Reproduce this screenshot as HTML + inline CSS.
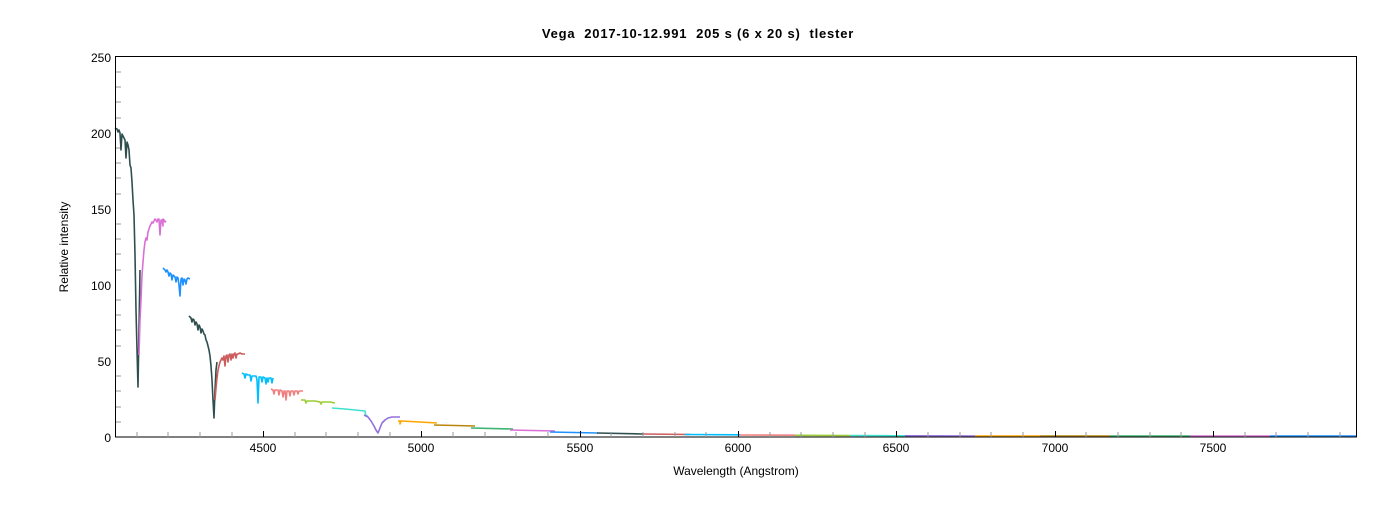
<!DOCTYPE html>
<html><head><meta charset="utf-8"><style>
body{margin:0;background:#fff;}
svg text{font-family:"Liberation Sans",sans-serif;}
</style></head><body>
<svg width="1400" height="500" xmlns="http://www.w3.org/2000/svg">
<rect width="1400" height="500" fill="#fff"/>
<text x="698" y="38" text-anchor="middle" font-size="13" font-weight="bold" fill="#000" letter-spacing="0.8" xml:space="preserve">Vega  2017-10-12.991  205 s (6 x 20 s)  tlester</text>
<g stroke="#999" stroke-width="1">
<line x1="116" y1="422" x2="121" y2="422"/><line x1="116" y1="407" x2="121" y2="407"/><line x1="116" y1="391" x2="121" y2="391"/><line x1="116" y1="376" x2="121" y2="376"/>
<line x1="116" y1="346" x2="121" y2="346"/><line x1="116" y1="330" x2="121" y2="330"/><line x1="116" y1="315" x2="121" y2="315"/><line x1="116" y1="300" x2="121" y2="300"/>
<line x1="116" y1="270" x2="121" y2="270"/><line x1="116" y1="254" x2="121" y2="254"/><line x1="116" y1="239" x2="121" y2="239"/><line x1="116" y1="224" x2="121" y2="224"/>
<line x1="116" y1="194" x2="121" y2="194"/><line x1="116" y1="178" x2="121" y2="178"/><line x1="116" y1="163" x2="121" y2="163"/><line x1="116" y1="148" x2="121" y2="148"/>
<line x1="116" y1="118" x2="121" y2="118"/><line x1="116" y1="102" x2="121" y2="102"/><line x1="116" y1="87" x2="121" y2="87"/><line x1="116" y1="72" x2="121" y2="72"/>
</g>
<g fill="none" stroke-width="1.6" stroke-linejoin="round">
<polyline stroke="#2f4f4f" points="115,128 117,129 118,132 119,130 120,133 121,150 122,134 123,136 124,138 125,140 126,158 127,142 128,145 129,150 130,165 131,168 132,182 133,200 134,215 135,255 136,310 137,350 138,387 139,330 140,270"/>
<polyline stroke="#da70d6" points="139,355 140,320 141,300 142,275 143,262 144,250 145,242 146,238 147,240 148,232 149,229 150,226 151,224 152,222 153,223 154,221 155,219 156,220 157,222 158,219 159,219 160,235 161,220 162,220 163,226 163,219 164,220 165,222 166,221"/>
<polyline stroke="#1e90ff" points="163,268 165,270 166,272 167,270 168,272 169,276 170,273 171,274 172,280 173,275 174,276 175,277 176,282 177,277 178,278 179,285 180,296 181,279 182,278 183,285 184,279 185,280 186,284 187,279 188,278 190,279"/>
<polyline stroke="#2f4f4f" points="189,316 191,318 192,322 193,319 194,320 195,325 196,322 197,324 198,330 199,325 200,327 201,333 202,329 203,331 204,334 205,335 206,340 207,342 208,346 209,350 210,356 211,366 212,380 213,400 214,418 215,390 216,370 217,362"/>
<polyline stroke="#cd5c5c" points="215,400 216,388 217,378 218,370 219,366 220,362 221,360 222,358 223,360 224,356 225,366 226,356 227,355 228,362 229,355 230,354 231,360 232,354 233,358 234,354 235,353 236,358 237,354 238,354 240,353 242,354 245,354"/>
<polyline stroke="#00bfff" points="242,373 244,374 245,378 246,374 248,375 250,375 251,381 252,376 254,376 256,376 257,380 258,403 259,377 261,377 262,382 263,377 265,378 266,384 267,378 268,382 269,378 271,378 272,383 273,378"/>
<polyline stroke="#f08080" points="271,389 273,390 274,394 275,390 278,390 279,395 280,390 282,391 283,397 284,391 285,391 286,400 287,391 289,391 290,396 291,391 293,391 294,395 295,391 297,391 298,394 299,391 303,391"/>
<polyline stroke="#9acd32" points="301,400 305,400 306,403 307,401 315,401 320,402 321,404 322,402 330,402 335,403"/>
<polyline stroke="#40e0d0" points="332,408 345,409 355,410 365,411 366,416 368,416"/>
<polyline stroke="#9370db" points="364,415 368,417 371,421 374,426 376,430 378,433 380,428 382,423 385,420 388,418 392,417 400,417"/>
<polyline stroke="#ffa500" points="398,421 400,421 400,424 401,421 420,422 437,423"/>
<polyline stroke="#b8860b" points="434,425 455,425.5 475,426"/>
<polyline stroke="#3cb371" points="471,428 513,429"/>
<polyline stroke="#da70d6" points="510,430 555,431"/>
<polyline stroke="#1e90ff" points="550,432 598,433"/>
<polyline stroke="#2f4f4f" points="597,433 643,434"/>
<polyline stroke="#cd5c5c" points="643,434 690,434.5"/>
<polyline stroke="#00bfff" points="685,434.5 740,434.8"/>
<polyline stroke="#f08080" points="740,435 795,435.2"/>
<polyline stroke="#9acd32" points="795,435.3 850,435.5"/>
<polyline stroke="#40e0d0" points="850,435.5 905,435.7"/>
<polyline stroke="#9370db" points="905,435.8 975,436"/>
<polyline stroke="#ffa500" points="975,436 1040,436"/>
<polyline stroke="#b8860b" points="1040,436 1110,436"/>
<polyline stroke="#3cb371" points="1110,436 1190,436"/>
<polyline stroke="#da70d6" points="1190,436 1270,436"/>
<polyline stroke="#1e90ff" points="1270,436 1357,436"/>
</g>
<rect x="115.5" y="56.5" width="1241" height="380.5" fill="none" stroke="#000" stroke-width="1"/>
<g stroke="#999" stroke-width="1">
<line x1="137" y1="437" x2="137" y2="432"/><line x1="168" y1="437" x2="168" y2="432"/><line x1="200" y1="437" x2="200" y2="432"/><line x1="232" y1="437" x2="232" y2="432"/>
<line x1="295" y1="437" x2="295" y2="432"/><line x1="326" y1="437" x2="326" y2="432"/><line x1="358" y1="437" x2="358" y2="432"/><line x1="390" y1="437" x2="390" y2="432"/>
<line x1="453" y1="437" x2="453" y2="432"/><line x1="485" y1="437" x2="485" y2="432"/><line x1="516" y1="437" x2="516" y2="432"/><line x1="548" y1="437" x2="548" y2="432"/>
<line x1="611" y1="437" x2="611" y2="432"/><line x1="643" y1="437" x2="643" y2="432"/><line x1="675" y1="437" x2="675" y2="432"/><line x1="706" y1="437" x2="706" y2="432"/>
<line x1="770" y1="437" x2="770" y2="432"/><line x1="801" y1="437" x2="801" y2="432"/><line x1="833" y1="437" x2="833" y2="432"/><line x1="865" y1="437" x2="865" y2="432"/>
<line x1="928" y1="437" x2="928" y2="432"/><line x1="960" y1="437" x2="960" y2="432"/><line x1="991" y1="437" x2="991" y2="432"/><line x1="1023" y1="437" x2="1023" y2="432"/>
<line x1="1086" y1="437" x2="1086" y2="432"/><line x1="1118" y1="437" x2="1118" y2="432"/><line x1="1150" y1="437" x2="1150" y2="432"/><line x1="1181" y1="437" x2="1181" y2="432"/>
<line x1="1245" y1="437" x2="1245" y2="432"/><line x1="1276" y1="437" x2="1276" y2="432"/><line x1="1308" y1="437" x2="1308" y2="432"/><line x1="1340" y1="437" x2="1340" y2="432"/>
</g>
<g stroke="#000" stroke-width="1">
<line x1="263.5" y1="437" x2="263.5" y2="431"/><line x1="421.5" y1="437" x2="421.5" y2="431"/><line x1="580.5" y1="437" x2="580.5" y2="431"/><line x1="738.5" y1="437" x2="738.5" y2="431"/><line x1="896.5" y1="437" x2="896.5" y2="431"/><line x1="1055.5" y1="437" x2="1055.5" y2="431"/><line x1="1213.5" y1="437" x2="1213.5" y2="431"/>
</g>
<g font-size="12" fill="#000" text-anchor="end">
<text x="111" y="442">0</text><text x="111" y="366">50</text><text x="111" y="290">100</text><text x="111" y="214">150</text><text x="111" y="138">200</text><text x="111" y="62">250</text>
</g>
<g font-size="12" fill="#000" text-anchor="middle">
<text x="263" y="452">4500</text><text x="421" y="452">5000</text><text x="580" y="452">5500</text><text x="738" y="452">6000</text><text x="896" y="452">6500</text><text x="1055" y="452">7000</text><text x="1213" y="452">7500</text>
<text x="736" y="475">Wavelength (Angstrom)</text>
<text transform="translate(68,247) rotate(-90)">Relative intensity</text>
</g>
</svg>
</body></html>
